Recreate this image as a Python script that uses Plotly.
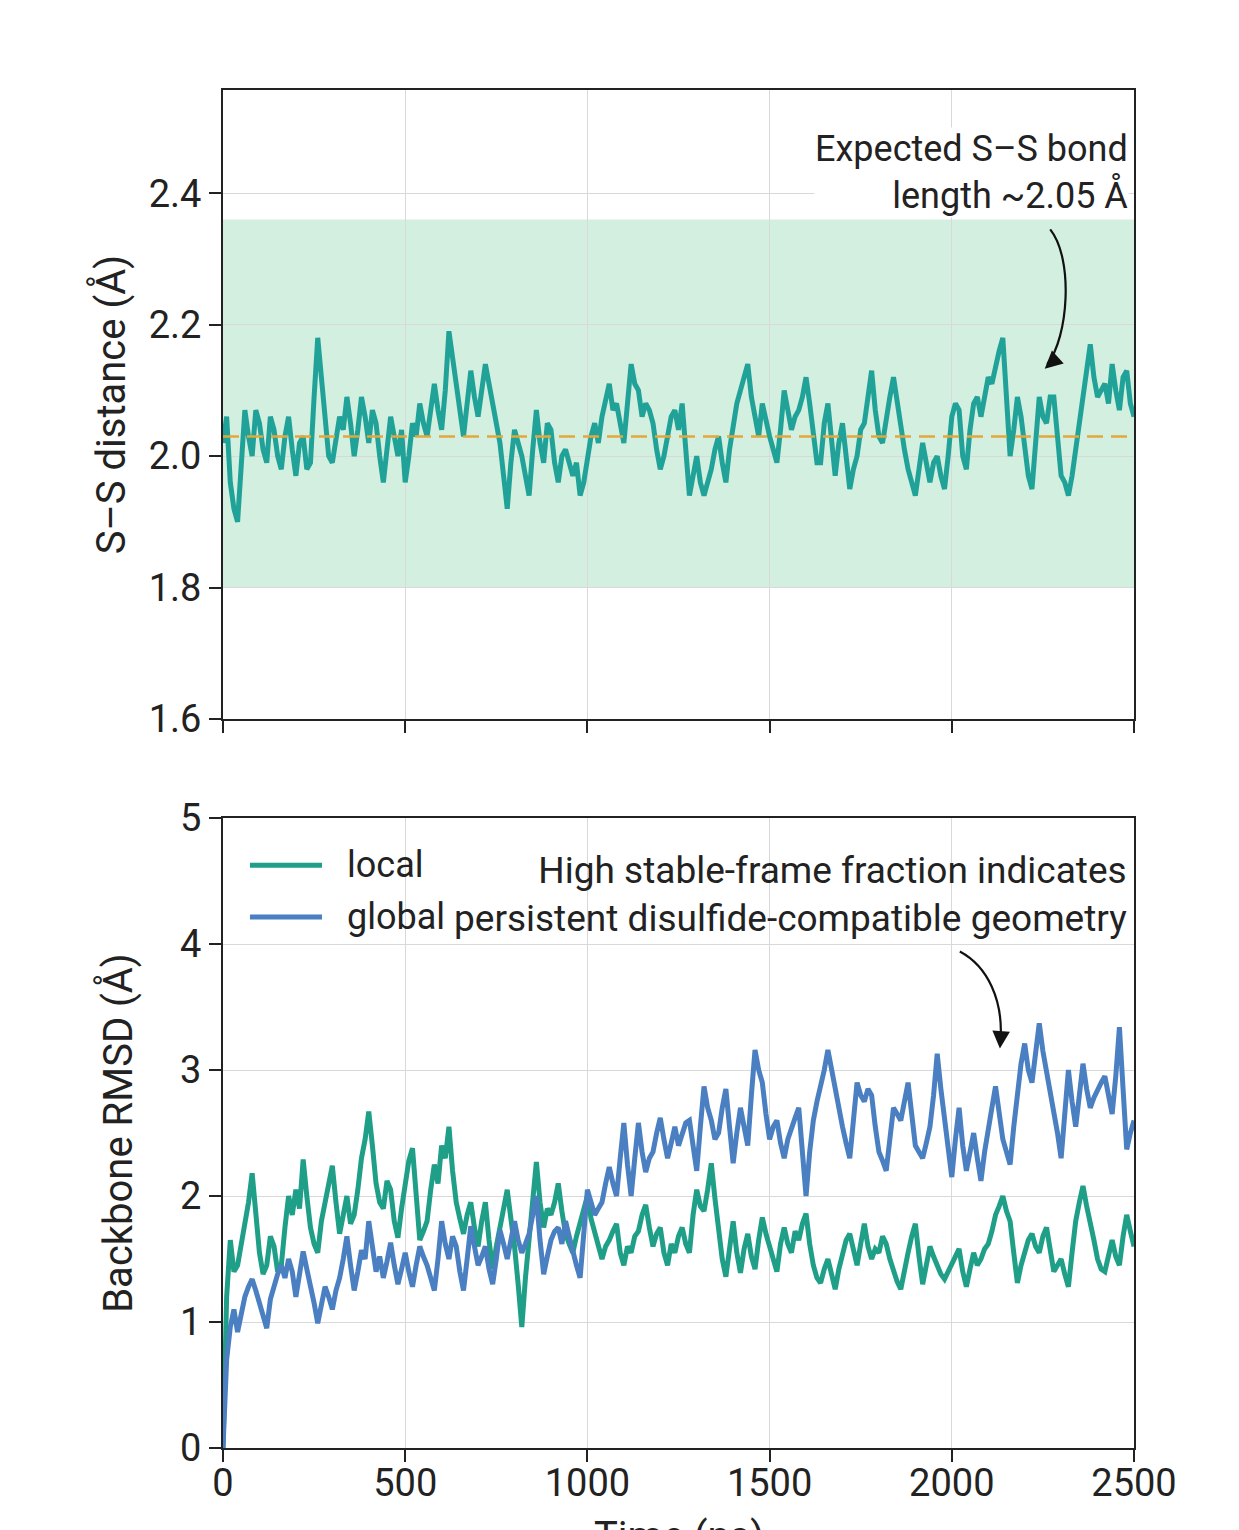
import plotly.graph_objects as go
from plotly.subplots import make_subplots

# ---------------- data (sampled every 10 ns) ----------------
time_ns = list(range(0, 2501, 10))

ss_distance = [
    2.02, 2.06, 1.96, 1.92, 1.90, 1.98, 2.07, 2.03, 2.00, 2.07,
    2.05, 2.01, 1.99, 2.06, 2.04, 2.00, 1.98, 2.03, 2.06, 2.01,
    1.97, 2.02, 2.03, 1.98, 1.99, 2.09, 2.18, 2.12, 2.05, 2.00,
    1.99, 2.03, 2.06, 2.04, 2.09, 2.05, 2.00, 2.04, 2.09, 2.06,
    2.02, 2.07, 2.05, 2.00, 1.96, 2.01, 2.06, 2.03, 2.00, 2.04,
    1.96, 2.00, 2.05, 2.03, 2.08, 2.05, 2.03, 2.07, 2.11, 2.07,
    2.04, 2.10, 2.19, 2.15, 2.11, 2.07, 2.03, 2.08, 2.13, 2.09,
    2.06, 2.10, 2.14, 2.11, 2.08, 2.05, 2.02, 1.97, 1.92, 1.99,
    2.04, 2.02, 2.00, 1.97, 1.94, 2.01, 2.07, 2.02, 1.99, 2.05,
    2.04, 1.99, 1.96, 2.00, 2.01, 1.99, 1.97, 1.99, 1.94, 1.96,
    2.00, 2.03, 2.05, 2.02, 2.06, 2.09, 2.11, 2.07, 2.08, 2.05,
    2.02, 2.08, 2.14, 2.11, 2.10, 2.06, 2.08, 2.07, 2.05, 2.01,
    1.98, 2.00, 2.03, 2.06, 2.07, 2.04, 2.08, 2.01, 1.94, 1.97,
    2.00, 1.96, 1.94, 1.96, 1.98, 2.01, 2.03, 1.99, 1.96, 2.01,
    2.05, 2.08, 2.10, 2.12, 2.14, 2.09, 2.06, 2.03, 2.08, 2.05,
    2.03, 2.01, 1.99, 2.04, 2.10, 2.07, 2.04, 2.06, 2.07, 2.09,
    2.12, 2.08, 2.04, 1.99, 1.99, 2.05, 2.08, 2.02, 1.97, 2.02,
    2.05, 2.00, 1.95, 1.98, 2.00, 2.04, 2.05, 2.09, 2.13, 2.07,
    2.03, 2.02, 2.06, 2.09, 2.12, 2.08, 2.05, 2.01, 1.98, 1.96,
    1.94, 1.98, 2.02, 1.99, 1.96, 1.99, 2.00, 1.97, 1.95, 2.00,
    2.06, 2.08, 2.07, 2.00, 1.98, 2.04, 2.08, 2.09, 2.06, 2.09,
    2.12, 2.11, 2.14, 2.16, 2.18, 2.10, 2.00, 2.04, 2.09, 2.06,
    2.02, 1.97, 1.95, 2.03, 2.09, 2.06, 2.05, 2.09, 2.09, 2.03,
    1.97, 1.96, 1.94, 1.97, 2.01, 2.06, 2.10, 2.13, 2.17, 2.12,
    2.09, 2.10, 2.11, 2.08, 2.14, 2.10, 2.07, 2.12, 2.13, 2.08,
    2.06,
]

rmsd_local = [
    0.00, 1.20, 1.65, 1.40, 1.45, 1.62, 1.75, 1.95, 2.18, 1.85,
    1.55, 1.38, 1.45, 1.68, 1.60, 1.40, 1.45, 1.75, 2.00, 1.85,
    2.05, 1.90, 2.29, 2.00, 1.75, 1.62, 1.55, 1.80, 1.95, 2.10,
    2.24, 1.95, 1.70, 1.85, 2.00, 1.78, 1.85, 2.05, 2.30, 2.45,
    2.67, 2.40, 2.10, 1.95, 1.90, 2.12, 2.05, 1.80, 1.67, 1.90,
    2.10, 2.28, 2.38, 1.95, 1.65, 1.72, 1.80, 2.05, 2.25, 2.10,
    2.40, 2.30, 2.55, 2.20, 1.95, 1.82, 1.70, 1.85, 1.95, 1.75,
    1.60, 1.80, 1.95, 1.65, 1.42, 1.60, 1.75, 1.90, 2.05, 1.82,
    1.60, 1.30, 0.96, 1.35, 1.65, 2.00, 2.27, 1.95, 1.75, 1.90,
    1.85, 1.95, 2.10, 1.88, 1.70, 1.62, 1.55, 1.68, 1.80, 1.92,
    2.00, 1.82, 1.70, 1.58, 1.50, 1.60, 1.65, 1.72, 1.78, 1.55,
    1.45, 1.60, 1.55, 1.68, 1.72, 1.85, 1.93, 1.75, 1.60, 1.70,
    1.75, 1.55, 1.45, 1.62, 1.55, 1.68, 1.75, 1.62, 1.55, 1.85,
    2.05, 1.92, 1.88, 2.05, 2.26, 1.98, 1.75, 1.50, 1.36, 1.60,
    1.80, 1.55, 1.39, 1.58, 1.70, 1.52, 1.42, 1.65, 1.83, 1.70,
    1.60, 1.48, 1.40, 1.62, 1.75, 1.62, 1.55, 1.72, 1.65, 1.78,
    1.86, 1.62, 1.45, 1.35, 1.31, 1.42, 1.50, 1.38, 1.26, 1.42,
    1.55, 1.65, 1.70, 1.55, 1.45, 1.62, 1.78, 1.60, 1.50, 1.58,
    1.55, 1.68, 1.62, 1.50, 1.40, 1.32, 1.26, 1.42, 1.55, 1.68,
    1.78, 1.52, 1.30, 1.45, 1.60, 1.52, 1.45, 1.38, 1.34, 1.40,
    1.45, 1.52, 1.58, 1.40, 1.28, 1.42, 1.55, 1.45, 1.50, 1.58,
    1.62, 1.72, 1.85, 1.92, 2.00, 1.88, 1.80, 1.55, 1.31, 1.45,
    1.55, 1.65, 1.70, 1.60, 1.55, 1.68, 1.75, 1.58, 1.40, 1.45,
    1.50, 1.38, 1.28, 1.55, 1.80, 1.95, 2.08, 1.92, 1.80, 1.65,
    1.50, 1.42, 1.40, 1.55, 1.65, 1.52, 1.45, 1.68, 1.85, 1.72,
    1.60,
]

rmsd_global = [
    0.00, 0.70, 0.96, 1.10, 0.92, 1.05, 1.20, 1.28, 1.34, 1.25,
    1.15, 1.05, 0.95, 1.18, 1.30, 1.38, 1.45, 1.35, 1.50, 1.40,
    1.20, 1.38, 1.56, 1.42, 1.30, 1.15, 0.99, 1.15, 1.28, 1.20,
    1.10, 1.25, 1.35, 1.50, 1.68, 1.45, 1.25, 1.40, 1.57, 1.50,
    1.80, 1.60, 1.40, 1.52, 1.35, 1.48, 1.63, 1.45, 1.30, 1.42,
    1.55, 1.40, 1.28, 1.45, 1.60, 1.52, 1.45, 1.35, 1.25, 1.50,
    1.80, 1.62, 1.50, 1.68, 1.60, 1.40, 1.25, 1.50, 1.76, 1.60,
    1.45, 1.52, 1.60, 1.42, 1.30, 1.50, 1.73, 1.62, 1.50, 1.65,
    1.80, 1.65, 1.55, 1.62, 1.70, 1.85, 2.00, 1.65, 1.38, 1.52,
    1.65, 1.72, 1.75, 1.62, 1.80, 1.68, 1.55, 1.45, 1.35, 1.70,
    2.05, 1.95, 1.85, 1.90, 1.95, 2.10, 2.23, 2.10, 2.00, 2.30,
    2.58, 2.25, 2.00, 2.30, 2.58, 2.35, 2.19, 2.30, 2.35, 2.50,
    2.62, 2.45, 2.30, 2.42, 2.55, 2.40, 2.50, 2.58, 2.60, 2.40,
    2.20, 2.55, 2.87, 2.70, 2.60, 2.45, 2.50, 2.70, 2.85, 2.55,
    2.26, 2.50, 2.70, 2.55, 2.40, 2.80, 3.16, 3.00, 2.90, 2.65,
    2.45, 2.55, 2.60, 2.42, 2.30, 2.45, 2.55, 2.62, 2.70, 2.35,
    2.00, 2.35, 2.60, 2.75, 2.87, 3.00, 3.16, 3.00, 2.85, 2.70,
    2.55, 2.42, 2.30, 2.60, 2.90, 2.80, 2.75, 2.85, 2.80, 2.55,
    2.35, 2.28, 2.20, 2.45, 2.70, 2.65, 2.60, 2.75, 2.90, 2.65,
    2.40, 2.35, 2.30, 2.42, 2.55, 2.80, 3.13, 2.85, 2.60, 2.38,
    2.15, 2.45, 2.70, 2.40, 2.20, 2.35, 2.50, 2.30, 2.12, 2.35,
    2.55, 2.70, 2.87, 2.65, 2.45, 2.35, 2.25, 2.55, 2.85, 3.05,
    3.21, 3.00, 2.90, 3.15, 3.37, 3.15, 3.00, 2.85, 2.70, 2.50,
    2.30, 2.65, 3.00, 2.75, 2.55, 2.80, 3.05, 2.85, 2.70, 2.78,
    2.85, 2.90, 2.95, 2.80, 2.65, 2.95, 3.34, 2.85, 2.37, 2.50,
    2.60,
]

series_names = ["local", "global"]

band_low, band_high = 1.80, 2.36
mean_ss = 2.03

top_ticks = [1.6, 1.8, 2.0, 2.2, 2.4]
bottom_ticks = [0, 1, 2, 3, 4, 5]
x_ticks = [0, 500, 1000, 1500, 2000, 2500]

# ---------------- styles ----------------
TEAL_TOP = "#20a299"
TEAL = "#1f9f88"
BLUE = "#4a7fc2"
FONT = "Roboto"
INK = "#222"
LW = 5

fig = make_subplots(rows=2, cols=1, shared_xaxes=False, vertical_spacing=0.073)

fig.add_trace(go.Scatter(x=time_ns, y=ss_distance, mode="lines",
                         line=dict(color=TEAL_TOP, width=LW), showlegend=False),
              row=1, col=1)
fig.add_trace(go.Scatter(x=time_ns, y=rmsd_local, mode="lines", name=series_names[0],
                         line=dict(color=TEAL, width=LW), showlegend=False), row=2, col=1)
fig.add_trace(go.Scatter(x=time_ns, y=rmsd_global, mode="lines", name=series_names[1],
                         line=dict(color=BLUE, width=LW), showlegend=False), row=2, col=1)

# shaded band and mean line on top panel
fig.add_shape(type="rect", xref="x domain", yref="y", x0=0, x1=1,
              y0=band_low, y1=band_high, fillcolor="rgba(140,214,170,0.38)",
              line=dict(width=0), layer="below")
fig.add_shape(type="line", xref="x domain", yref="y", x0=0, x1=1,
              y0=mean_ss, y1=mean_ss,
              line=dict(color="#e3a83c", width=2.5, dash="16px,8px"))

axis_common = dict(showline=True, linecolor=INK, linewidth=2, mirror=True,
                   ticks="outside", ticklen=12, tickwidth=1.5, tickcolor=INK,
                   showgrid=True, gridcolor="#d9d9d9", gridwidth=1,
                   zeroline=False, automargin=False,
                   tickfont=dict(family=FONT, size=38, color=INK))

fig.update_xaxes(**axis_common, range=[0, 2500], tickvals=x_ticks, ticklabelstandoff=-12)
fig.update_xaxes(showticklabels=False, row=1, col=1)
fig.update_yaxes(**axis_common)
fig.update_yaxes(row=1, col=1, range=[1.6, 2.557], tickvals=top_ticks,
                 tickformat=".1f",
                 title=dict(text="S–S distance (Å)", font=dict(family=FONT, size=40, color=INK),
                            standoff=11))
fig.update_yaxes(row=2, col=1, range=[0, 5], tickvals=bottom_ticks,
                 title=dict(text="Backbone RMSD (Å)", font=dict(family=FONT, size=40, color=INK),
                            standoff=35))

# x-axis title (placed below the tick labels, partly beyond the page bottom as in the reference)
fig.add_annotation(xref="x2 domain", yref="y2 domain", x=0.5, y=0, yanchor="top",
                   yshift=-63, text="Time (ns)", showarrow=False,
                   font=dict(family=FONT, size=40, color=INK))

# manual legend (long line swatches like the reference)
legend_rows = [(series_names[0], TEAL, 0.925), (series_names[1], BLUE, 0.843)]
for name, color, ly in legend_rows:
    fig.add_shape(type="line", xref="x2 domain", yref="y2 domain",
                  x0=0.0296, x1=0.1087, y0=ly, y1=ly,
                  line=dict(color=color, width=LW))
    fig.add_annotation(xref="x2 domain", yref="y2 domain", x=0.134, y=ly,
                       xanchor="left", yanchor="middle", text=name, showarrow=False,
                       font=dict(family=FONT, size=36, color=INK))

# annotations
fig.add_annotation(xref="x", yref="y", x=2487, y=2.432, xanchor="right", yanchor="middle",
                   text="Expected S–S bond<br>length ~2.05 Å", showarrow=False,
                   align="right", bgcolor="white", borderpad=0,
                   font=dict(family=FONT, size=36, color=INK))
fig.add_shape(type="path", xref="x", yref="y",
              path="M 2270,2.345 C 2335,2.30 2320,2.18 2262,2.14",
              line=dict(color="#111", width=2.2))
fig.add_annotation(xref="x", yref="y", x=2255, y=2.133, ax=10, ay=-9,
                   showarrow=True, arrowhead=2, arrowsize=1.6, arrowwidth=2.2,
                   arrowcolor="#111", text="")

fig.add_annotation(xref="x2", yref="y2", x=2485, y=4.39, xanchor="right", yanchor="middle",
                   text="High stable-frame fraction indicates<br>persistent disulfide-compatible geometry",
                   showarrow=False, align="right",
                   font=dict(family=FONT, size=37, color=INK))
fig.add_shape(type="path", xref="x2", yref="y2",
              path="M 2022,3.94 C 2100,3.82 2140,3.55 2134,3.25",
              line=dict(color="#111", width=2.2))
fig.add_annotation(xref="x2", yref="y2", x=2132, y=3.17, ax=1, ay=-14,
                   showarrow=True, arrowhead=2, arrowsize=1.6, arrowwidth=2.2,
                   arrowcolor="#111", text="")

fig.update_layout(
    width=1231, height=1522,
    margin=dict(l=215, r=105, t=82, b=82),
    paper_bgcolor="white", plot_bgcolor="white",
    font=dict(family=FONT, size=36, color=INK),
    showlegend=False,
)
fig.update_layout(yaxis=dict(domain=[0.5368, 1.0]), yaxis2=dict(domain=[0.0, 0.4639]))

fig.write_html("out.html")
